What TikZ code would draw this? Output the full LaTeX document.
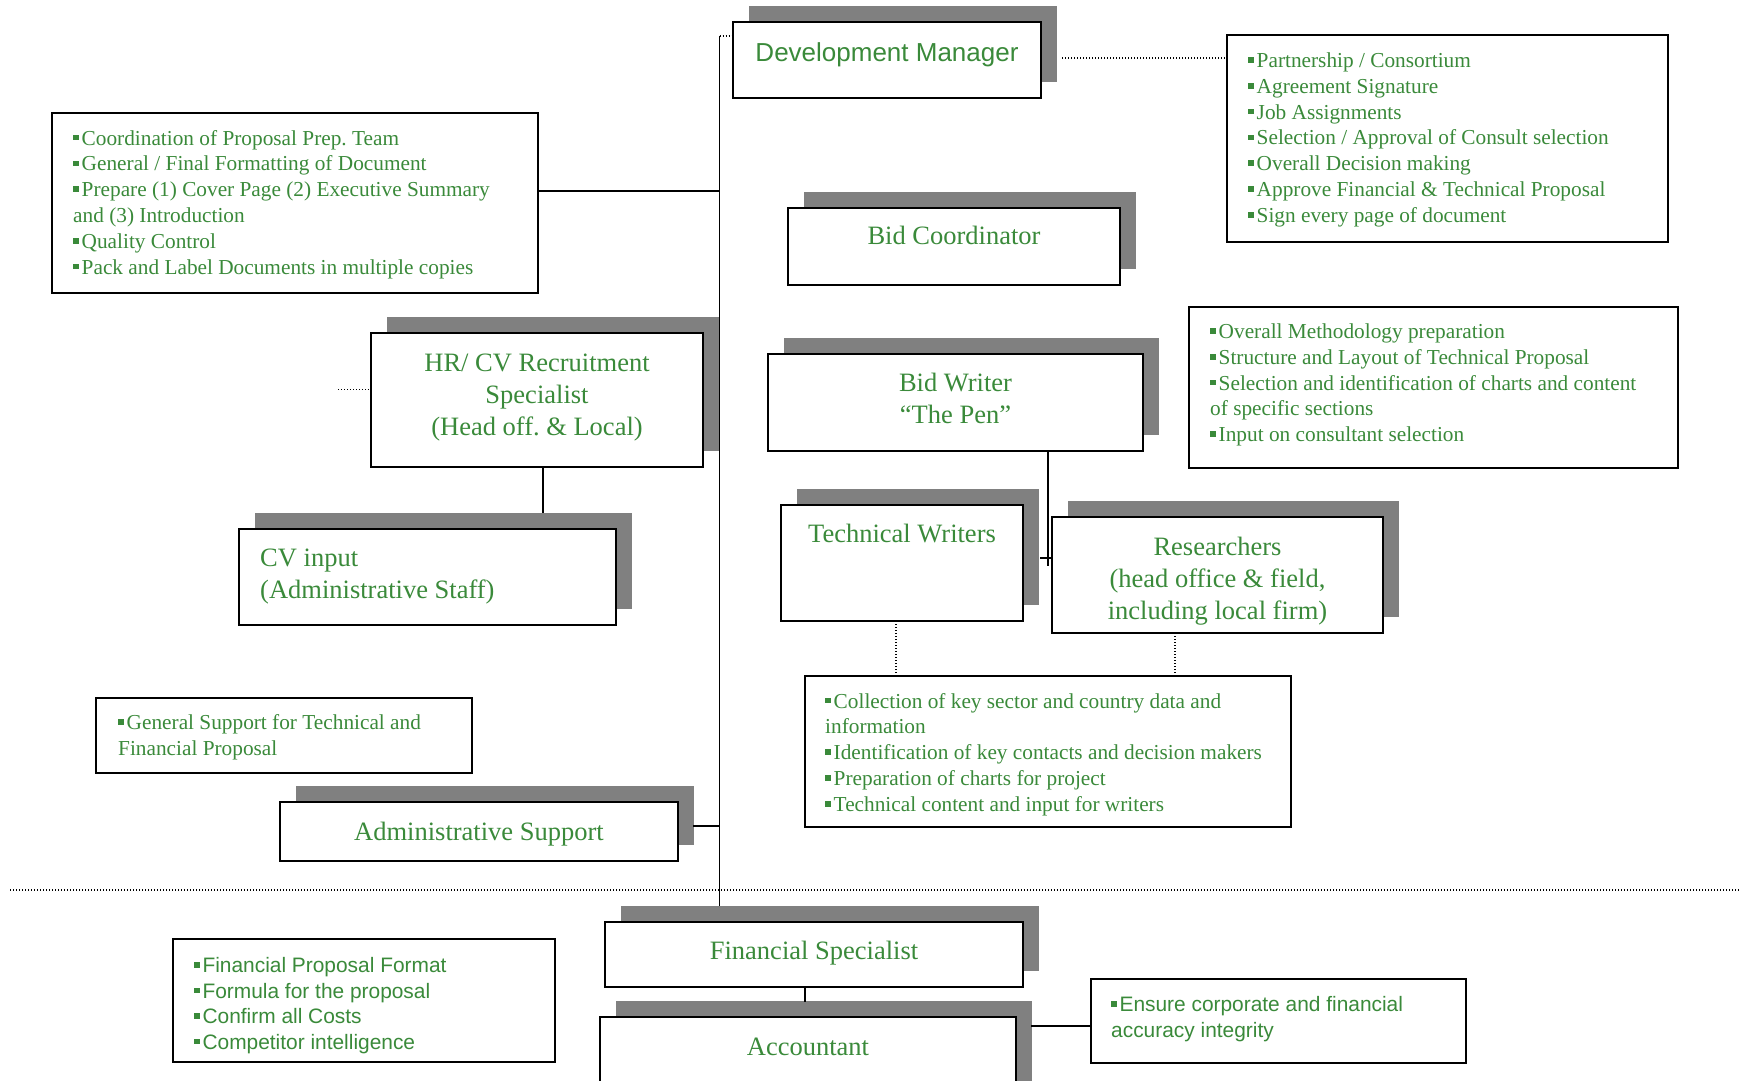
\documentclass[tikz,border=0pt]{standalone}
\usepackage{fontspec}
\setmainfont{Liberation Serif}
\newfontfamily\sansfam{Liberation Sans}
\usetikzlibrary{shadows,calc}
\definecolor{txtgreen}{RGB}{58,138,58}
\definecolor{shade}{RGB}{128,128,128}
\frenchspacing
% small square bullet
\newcommand{\bul}{\raisebox{0.22em}{\rule{0.26em}{0.26em}}\hspace{0.14em}}
% stacked lines whose baseline is the first line
\newcommand{\leftlines}[1]{\begin{tabular}[t]{@{}l@{}}#1\end{tabular}}
\newcommand{\midlines}[1]{\begin{tabular}[t]{@{}c@{}}#1\end{tabular}}
\tikzset{
  box/.style={draw=black, line width=2pt, fill=white, rectangle, inner sep=0pt, outer sep=0pt},
  shadowbox/.style={box, drop shadow={shadow xshift=16pt, shadow yshift=16pt, fill=shade, opacity=1}},
  link/.style={line width=1.8pt, black},
  dotlink/.style={line width=1.3pt, dash pattern=on 1.3pt off 1.7pt, black},
  title/.style={inner sep=0pt, text=txtgreen, anchor=base, font=\fontsize{26.5}{32}\selectfont},
  titleleft/.style={title, anchor=base west},
  sanstitle/.style={inner sep=0pt, text=txtgreen, anchor=base, font=\sansfam\fontsize{26}{32}\selectfont},
  listtxt/.style={inner sep=0pt, text=txtgreen, anchor=base west, font=\fontsize{21.3}{25.8}\selectfont},
  sanslist/.style={inner sep=0pt, text=txtgreen, anchor=base west, font=\sansfam\fontsize{20.9}{25.5}\selectfont},
}
\begin{document}
\begin{tikzpicture}[x=1pt, y=-1pt]
\useasboundingbox (0,0) rectangle (1741,1080);
\fill[white] (0,0) rectangle (1741,1080);

% role boxes with shadows
\node[shadowbox, minimum width=308pt, minimum height=76pt] (dm) at (887,60) {};
\node[shadowbox, minimum width=332pt, minimum height=77pt] (bidco) at (954,246.5) {};
\node[shadowbox, minimum width=332pt, minimum height=134pt] (hr) at (537,400) {};
\node[shadowbox, minimum width=375pt, minimum height=97pt] (bw) at (955.5,402.5) {};
\node[shadowbox, minimum width=377pt, minimum height=96pt] (cv) at (427.5,577) {};
\node[shadowbox, minimum width=242pt, minimum height=116pt] (tw) at (902,563) {};
\node[shadowbox, minimum width=331pt, minimum height=116pt] (res) at (1217.5,575) {};
\node[shadowbox, minimum width=398pt, minimum height=59pt] (admin) at (479,831.5) {};
\node[shadowbox, minimum width=418pt, minimum height=65pt] (fs) at (814,954.5) {};
\node[shadowbox, minimum width=416pt, minimum height=86pt] (acc) at (808,1060) {};

% task boxes
\node[box, minimum width=486pt, minimum height=180pt] (coordlist) at (295,203) {};
\node[box, minimum width=441pt, minimum height=207pt] (partner) at (1447.5,138.5) {};
\node[box, minimum width=489pt, minimum height=161pt] (method) at (1433.5,387.5) {};
\node[box, minimum width=486pt, minimum height=151pt] (rlist) at (1048,751.5) {};
\node[box, minimum width=376pt, minimum height=75pt] (gensup) at (284,735.5) {};
\node[box, minimum width=382pt, minimum height=123pt] (finlist) at (364,1000.5) {};
\node[box, minimum width=375pt, minimum height=84pt] (ensure) at (1278.5,1021) {};

% role titles
\node[sanstitle] (dmtext) at (887,61) {Development Manager};
\node[title] (bidcotext) at (954,244) {Bid Coordinator};
\node[title] (hrtext) at (537,371) {\midlines{HR/ CV Recruitment\\Specialist\\(Head off. \& Local)}};
\node[title] (bwtext) at (955.5,391) {\midlines{Bid Writer\\“The Pen”}};
\node[titleleft] (cvtext) at (260,566) {\leftlines{CV input\\(Administrative Staff)}};
\node[title] (twtext) at (902,542.5) {Technical Writers};
\node[title] (restext) at (1217.5,555.5) {\midlines{Researchers\\(head office \& field,\\including local firm)}};
\node[title] (admintext) at (479,840) {Administrative Support};
\node[title] (fstext) at (814,959) {Financial Specialist};
\node[title] (acctext) at (808,1055) {Accountant};

% task lists
\node[listtxt] (coordtext) at (73,145) {\leftlines{\bul Coordination of Proposal Prep. Team\\
  \bul General / Final Formatting of Document\\
  \bul Prepare (1) Cover Page (2) Executive Summary\\
  and (3) Introduction\\
  \bul Quality Control\\
  \bul Pack and Label Documents in multiple copies}};
\node[listtxt] (partnertext) at (1248,67.5) {\leftlines{\bul Partnership / Consortium\\
  \bul Agreement Signature\\
  \bul Job Assignments\\
  \bul Selection / Approval of Consult selection\\
  \bul Overall Decision making\\
  \bul Approve Financial \& Technical Proposal\\
  \bul Sign every page of document}};
\node[listtxt] (methodtext) at (1210,338.5) {\leftlines{\bul Overall Methodology preparation\\
  \bul Structure and Layout of Technical Proposal\\
  \bul Selection and identification of charts and content\\
  of specific sections\\
  \bul Input on consultant selection}};
\node[listtxt] (rlisttext) at (825,708) {\leftlines{\bul Collection of key sector and country data and\\
  information\\
  \bul Identification of key contacts and decision makers\\
  \bul Preparation of charts for project\\
  \bul Technical content and input for writers}};
\node[listtxt] (gensuptext) at (118,729.5) {\leftlines{\bul General Support for Technical and\\
  Financial Proposal}};
\node[sanslist] (fintext) at (194,972.5) {\leftlines{\bul Financial Proposal Format\\
  \bul Formula for the proposal\\
  \bul Confirm all Costs\\
  \bul Competitor intelligence}};
\node[sanslist] (ensuretext) at (1111,1011.5) {\leftlines{\bul Ensure corporate and financial\\
  accuracy integrity}};

% main trunk and its branches
\coordinate (top) at (719.5,36);
\coordinate (bottom) at (719.5,906);
\draw[link] (top) -- (bottom);
\draw[dotlink] (top) -- (top -| dm.west);
\coordinate (jc) at (719.5,191);
\draw[link] (jc -| coordlist.east) -- (jc);
\coordinate (jad) at (693,826);
\draw[link] (jad) -- (jad -| top);

% dotted links to task boxes
\coordinate (jdm) at (1062,58);
\draw[dotlink] (jdm) -- (jdm -| partner.west);
\coordinate (jhr) at (338,389.5);
\draw[dotlink] (jhr) -- (jhr -| hr.west);
\coordinate (dtw) at (896,0);
\draw[dotlink] (dtw |- tw.south) -- (dtw |- rlist.north);
\coordinate (dres) at (1175,0);
\draw[dotlink] (dres |- res.south) -- (dres |- rlist.north);

% HR to CV input
\coordinate (jcv) at (543,513);
\draw[link] (jcv |- hr.south) -- (jcv);

% Bid Writer to writers and researchers
\coordinate (jbw) at (1048,566);
\draw[link] (jbw |- bw.south) -- (jbw);
\coordinate (jtr) at (1040,558);
\draw[link] (jtr) -- (jtr -| res.west);

% finance branch
\coordinate (jfa) at (805,1002);
\draw[link] (jfa |- fs.south) -- (jfa);
\coordinate (jae) at (1031,1026);
\draw[link] (jae) -- (jae -| ensure.west);

% separator
\coordinate (sepL) at (10,890);
\coordinate (sepR) at (1741,890);
\draw[dotlink] (sepL) -- (sepR);
\end{tikzpicture}
\end{document}
